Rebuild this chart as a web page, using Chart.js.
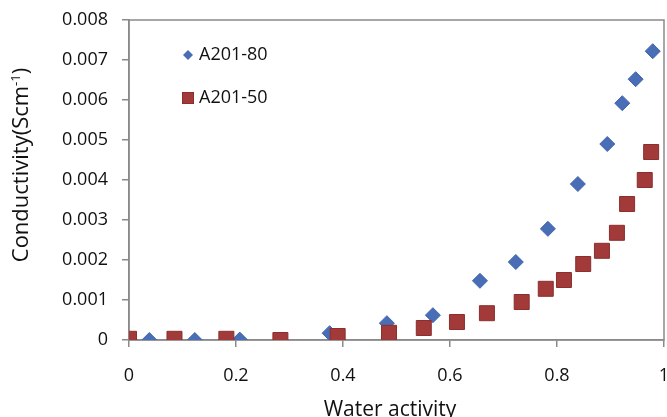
<!DOCTYPE html>
<html>
<head>
<meta charset="utf-8">
<script src="https://cdn.jsdelivr.net/npm/chart.js@4.4.1/dist/chart.umd.min.js"></script>
<style>
  html, body { margin: 0; padding: 0; background: #fff; }
</style>
</head>
<body>
<canvas id="condchart" width="667" height="417"></canvas>
<script>
// values: water activity (x) vs conductivity in S/cm (y)
const seriesNames = ['A201-80', 'A201-50'];

const a80_x = [0.038, 0.123, 0.207, 0.375, 0.482, 0.568, 0.656, 0.723, 0.783, 0.839, 0.894, 0.922, 0.947, 0.979];
const a80_y = [0, 0, 0.00001, 0.00017, 0.00042, 0.00062, 0.00148, 0.00195, 0.00278, 0.0039, 0.0049, 0.00592, 0.00652, 0.00722];

const a50_x = [0, 0.085, 0.182, 0.283, 0.39, 0.486, 0.551, 0.613, 0.669, 0.734, 0.779, 0.813, 0.849, 0.884, 0.912, 0.931, 0.964, 0.976];
const a50_y = [0.00003, 0.00003, 0.00003, 0, 0.0001, 0.00018, 0.0003, 0.00045, 0.00067, 0.00095, 0.00128, 0.0015, 0.0019, 0.00223, 0.00268, 0.0034, 0.004, 0.0047];

const xTicks = [0, 0.2, 0.4, 0.6, 0.8, 1];
const yTicks = [0, 0.001, 0.002, 0.003, 0.004, 0.005, 0.006, 0.007, 0.008];

const blue = '#4a6eb5';
const red = '#a33a3a';
const axisGrey = '#8a8a8a';
const FONT = "'Open Sans', sans-serif";

const toPoints = (xs, ys) => xs.map((x, i) => ({ x: x, y: ys[i] }));

// frame round the plot area + legend + axis titles (excel style)
const excelBits = {
  id: 'excelBits',
  beforeDatasetsDraw(chart) {
    const ctx = chart.ctx;
    const a = chart.chartArea;
    ctx.save();
    ctx.strokeStyle = axisGrey;
    ctx.lineWidth = 1.5;
    ctx.strokeRect(a.left, a.top, a.right - a.left, a.bottom - a.top);
    ctx.restore();
  },
  afterDraw(chart) {
    const ctx = chart.ctx;
    ctx.save();

    // legend inside the plot
    ctx.fillStyle = blue;
    ctx.beginPath();
    ctx.moveTo(188, 50); ctx.lineTo(193, 55); ctx.lineTo(188, 60); ctx.lineTo(183, 55);
    ctx.closePath();
    ctx.fill();
    ctx.fillStyle = red;
    ctx.strokeStyle = '#8a2e2e';
    ctx.fillRect(182.5, 92.5, 11, 11);
    ctx.strokeRect(182.5, 92.5, 11, 11);

    ctx.fillStyle = '#111';
    ctx.font = '18px ' + FONT;
    ctx.textBaseline = 'middle';
    ctx.textAlign = 'left';
    ctx.fillText(seriesNames[0], 199, 55);
    ctx.fillText(seriesNames[1], 199, 98);

    // x title
    ctx.font = '21px ' + FONT;
    ctx.textAlign = 'center';
    ctx.fillText('Water activity', 390, 410);

    // y title with superscript
    const main = 'Conductivity(Scm';
    const sup = '-1';
    const close = ')';
    ctx.textBaseline = 'alphabetic';
    ctx.font = '22px ' + FONT;
    const wMain = ctx.measureText(main).width;
    const wClose = ctx.measureText(close).width;
    ctx.font = '13px ' + FONT;
    const wSup = ctx.measureText(sup).width;
    const total = wMain + wSup + wClose;
    ctx.translate(28, 165);
    ctx.rotate(-Math.PI / 2);
    ctx.textAlign = 'left';
    ctx.font = '22px ' + FONT;
    ctx.fillText(main, -total / 2, 0);
    ctx.font = '13px ' + FONT;
    ctx.fillText(sup, -total / 2 + wMain, -8);
    ctx.font = '22px ' + FONT;
    ctx.fillText(close, -total / 2 + wMain + wSup, 0);

    ctx.restore();
  }
};

const chart = new Chart(document.getElementById('condchart').getContext('2d'), {
  type: 'scatter',
  data: {
    datasets: [{
      label: seriesNames[0],
      data: toPoints(a80_x, a80_y),
      pointStyle: 'rectRot',
      radius: 7.5,
      backgroundColor: blue,
      borderColor: '#4165ad',
      borderWidth: 1,
      order: 1
    }, {
      label: seriesNames[1],
      data: toPoints(a50_x, a50_y),
      pointStyle: 'rect',
      radius: 10.6,
      backgroundColor: red,
      borderColor: '#8a2e2e',
      borderWidth: 1,
      order: 0
    }]
  },
  options: {
    responsive: false,
    animation: false,
    layout: { autoPadding: false, padding: { top: 20, right: 3, left: 0, bottom: 0 } },
    plugins: {
      legend: { display: false },
      tooltip: { enabled: false }
    },
    scales: {
      x: {
        type: 'linear',
        min: 0,
        max: 1,
        afterBuildTicks: (scale) => { scale.ticks = xTicks.map(v => ({ value: v })); },
        afterFit: (scale) => {
          scale.height = 77;
          // the "1" label may run off the right edge like in the original
          scale.paddingLeft = 0;
          scale.paddingRight = 0;
        },
        grid: { drawOnChartArea: false, tickLength: 7, color: axisGrey, lineWidth: 1.5 },
        border: { color: axisGrey, width: 1.5 },
        ticks: {
          color: '#111',
          font: { family: FONT, size: 18 },
          padding: 18,
          maxRotation: 0,
          callback: (v) => String(Number(v.toFixed(1)))
        }
      },
      y: {
        min: 0,
        max: 0.008,
        afterBuildTicks: (scale) => { scale.ticks = yTicks.map(v => ({ value: v })); },
        afterFit: (scale) => {
          scale.width = 129;
          scale.paddingTop = 0;
          scale.paddingBottom = 0;
        },
        grid: { drawOnChartArea: false, tickLength: 7, color: axisGrey, lineWidth: 1.5 },
        border: { color: axisGrey, width: 1.5 },
        ticks: {
          color: '#111',
          font: { family: FONT, size: 18 },
          padding: 14,
          callback: (v) => (v === 0 ? '0' : v.toFixed(3))
        }
      }
    }
  },
  plugins: [excelBits]
});
</script>
</body>
</html>
